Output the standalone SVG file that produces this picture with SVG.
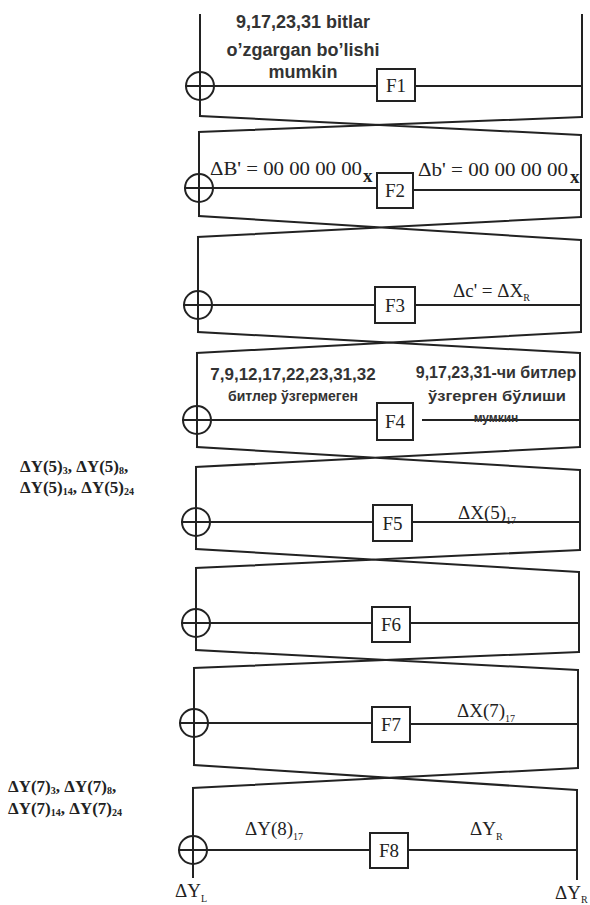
<svg xmlns="http://www.w3.org/2000/svg" width="590" height="905" viewBox="0 0 590 905">
<defs>
<style>
.ln{stroke:#222;stroke-width:2;fill:none;stroke-linecap:square}
.box{stroke:#222;stroke-width:2;fill:#fff}
.xor{stroke:#222;stroke-width:2;fill:none}
.fl{font-family:"Liberation Serif",serif;font-size:19px;fill:#222;text-anchor:middle}
.tm{font-family:"Liberation Serif",serif;font-size:19px;fill:#222}
.tb{font-family:"Liberation Serif",serif;font-size:17px;font-weight:bold;fill:#222}
.sb{font-family:"Liberation Sans",sans-serif;font-weight:bold;fill:#333;text-anchor:middle}
</style>
</defs>
<rect width="590" height="905" fill="#fff"/>
<g id="connectors">
<path class="ln" d="M200,15V116 M582,15V117"/>
<path class="ln" d="M199,132V216 M581,135V217"/>
<path class="ln" d="M198,237V332 M581,240V332"/>
<path class="ln" d="M197,353V447 M580,353V447"/>
<path class="ln" d="M196,467V549 M580,470V550"/>
<path class="ln" d="M196,568V650 M579,572V652"/>
<path class="ln" d="M194,668V765 M578,670V768"/>
<path class="ln" d="M193,788V877 M577,790V879"/>
<path class="ln" d="M200,116L581,135 M582,117L199,132"/>
<path class="ln" d="M199,216L581,240 M581,217L198,237"/>
<path class="ln" d="M198,332L580,353 M581,332L197,353"/>
<path class="ln" d="M197,447L580,470 M580,447L196,467"/>
<path class="ln" d="M196,549L579,572 M580,550L196,568"/>
<path class="ln" d="M196,650L578,670 M579,652L194,668"/>
<path class="ln" d="M194,765L577,790 M578,768L193,788"/>
<path class="ln" d="M186,86H377 M415,86H582"/>
<path class="ln" d="M185,188H377 M413,190H581"/>
<path class="ln" d="M184,305H375 M415,305H581"/>
<path class="ln" d="M183,420H377 M423,420H580"/>
<path class="ln" d="M182,522H373 M412,522H580"/>
<path class="ln" d="M182,623H372 M410,623H579"/>
<path class="ln" d="M180,723H372 M410,724H578"/>
<path class="ln" d="M179,850H370 M408,850H577"/>
</g>
<g id="xor1"><circle class="xor" cx="200" cy="86" r="14"/></g>
<g id="xor2"><circle class="xor" cx="199" cy="188" r="14"/></g>
<g id="xor3"><circle class="xor" cx="198" cy="305" r="14"/></g>
<g id="xor4"><circle class="xor" cx="197" cy="420" r="14"/></g>
<g id="xor5"><circle class="xor" cx="196" cy="522" r="14"/></g>
<g id="xor6"><circle class="xor" cx="196" cy="623" r="14"/></g>
<g id="xor7"><circle class="xor" cx="194" cy="723" r="14"/></g>
<g id="xor8"><circle class="xor" cx="193" cy="850" r="14"/></g>
<g id="F1"><rect class="box" x="377" y="69" width="38" height="32"/><text class="fl" x="396" y="92">F1</text></g>
<g id="F2"><rect class="box" x="377" y="173" width="36" height="35"/><text class="fl" x="395" y="197">F2</text></g>
<g id="F3"><rect class="box" x="375" y="287" width="40" height="36"/><text class="fl" x="395" y="312">F3</text></g>
<g id="F4"><rect class="box" x="377" y="403" width="36" height="37"/><text class="fl" x="395" y="428">F4</text></g>
<g id="F5"><rect class="box" x="373" y="505" width="39" height="36"/><text class="fl" x="392.5" y="530">F5</text></g>
<g id="F6"><rect class="box" x="372" y="607" width="38" height="35"/><text class="fl" x="391" y="631">F6</text></g>
<g id="F7"><rect class="box" x="372" y="707" width="38" height="35"/><text class="fl" x="391" y="731">F7</text></g>
<g id="F8"><rect class="box" x="370" y="833" width="38" height="35"/><text class="fl" x="389" y="857">F8</text></g>
<g id="labels">
<text class="sb" x="303" y="28" font-size="18">9,17,23,31 bitlar</text>
<text class="sb" x="303" y="56" font-size="18">o’zgargan bo’lishi</text>
<text class="sb" x="303" y="78" font-size="18">mumkin</text>
<text class="tm" x="210" y="175" textLength="152" lengthAdjust="spacingAndGlyphs">ΔB' = 00 00 00 00</text>
<text class="tm" x="363" y="182" font-size="10" font-weight="bold">x</text>
<text class="tm" x="418" y="176" textLength="150" lengthAdjust="spacingAndGlyphs">Δb' = 00 00 00 00</text>
<text class="tm" x="570" y="183" font-size="10" font-weight="bold">x</text>
<text class="tm" x="453" y="297">Δc' = ΔX<tspan font-size="10" dy="4">R</tspan></text>
<text class="sb" x="293" y="380" font-size="17">7,9,12,17,22,23,31,32</text>
<text class="sb" x="293" y="401" font-size="14">битлер ўзгермеген</text>
<text class="sb" x="496" y="378" font-size="16">9,17,23,31-чи битлер</text>
<text class="sb" x="497" y="401" font-size="14" textLength="138" lengthAdjust="spacingAndGlyphs">ўзгерген бўлиши</text>
<text class="sb" x="496" y="422" font-size="12">мумкин</text>
<text class="tb" x="20" y="472">ΔY(5)<tspan font-size="10" dy="2">3</tspan><tspan dy="-2">, ΔY(5)</tspan><tspan font-size="10" dy="2">8</tspan><tspan dy="-2">,</tspan></text>
<text class="tb" x="20" y="493">ΔY(5)<tspan font-size="10" dy="2">14</tspan><tspan dy="-2">, ΔY(5)</tspan><tspan font-size="10" dy="2">24</tspan></text>
<text class="tm" x="458" y="519">ΔX(5)<tspan font-size="10" dy="5">17</tspan></text>
<text class="tm" x="457" y="717">ΔX(7)<tspan font-size="10" dy="5">17</tspan></text>
<text class="tb" x="8" y="792">ΔY(7)<tspan font-size="10" dy="2">3</tspan><tspan dy="-2">, ΔY(7)</tspan><tspan font-size="10" dy="2">8</tspan><tspan dy="-2">,</tspan></text>
<text class="tb" x="8" y="814">ΔY(7)<tspan font-size="10" dy="2">14</tspan><tspan dy="-2">, ΔY(7)</tspan><tspan font-size="10" dy="2">24</tspan></text>
<text class="tm" x="245" y="835">ΔY(8)<tspan font-size="10" dy="5">17</tspan></text>
<text class="tm" x="470" y="835">ΔY<tspan font-size="10" dy="5">R</tspan></text>
<text class="tm" x="175" y="897">ΔY<tspan font-size="10" dy="5">L</tspan></text>
<text class="tm" x="555" y="899">ΔY<tspan font-size="10" dy="4">R</tspan></text>
</g>
</svg>
